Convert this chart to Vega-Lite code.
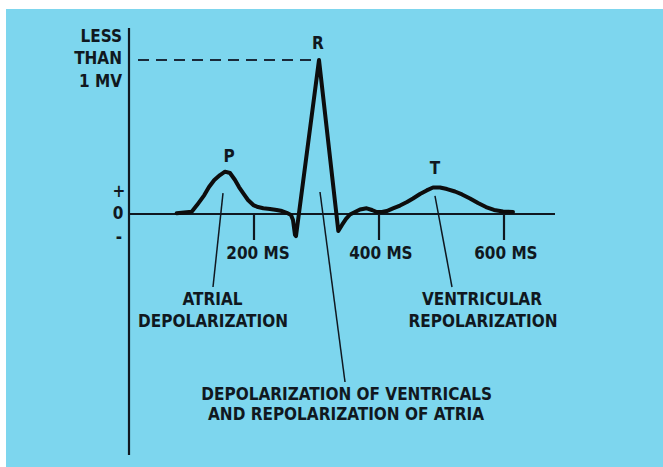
{
  "$schema": "https://vega.github.io/schema/vega-lite/v6.json",
  "width": 663,
  "height": 467,
  "autosize": {"type": "fit", "contains": "padding"},
  "padding": {"left": 6, "top": 9, "right": 0, "bottom": 0},
  "background": "#ffffff",
  "config": {
    "view": {"fill": "#7dd6ee", "stroke": null},
    "text": {"font": "DejaVu Sans Condensed", "fontSize": 17, "fontWeight": "bold", "color": "#101820", "baseline": "middle"}
  },
  "datasets": {
    "frame": [
      {"x": 0, "y": -1.565, "x2": 0, "y2": 1.208},
      {"x": 0, "y": 0, "x2": 681.6, "y2": 0},
      {"x": 200, "y": 0, "x2": 200, "y2": -0.169},
      {"x": 400, "y": 0, "x2": 400, "y2": -0.169},
      {"x": 600, "y": 0, "x2": 600, "y2": -0.169}
    ],
    "dashed": [{"x": 14.4, "y": 1.0, "x2": 291.2, "y2": 1.0}],
    "leaders": [
      {"x": 150.4, "y": 0.136, "x2": 134.4, "y2": -0.474},
      {"x": 305.6, "y": 0.143, "x2": 345.6, "y2": -1.091},
      {"x": 489.6, "y": 0.117, "x2": 516.8, "y2": -0.474}
    ],
    "ecg": [
      {"ms": 76.3, "mv": 0.005},
      {"ms": 88, "mv": 0.01},
      {"ms": 100.3, "mv": 0.015},
      {"ms": 108.8, "mv": 0.058},
      {"ms": 120.5, "mv": 0.123},
      {"ms": 128, "mv": 0.175},
      {"ms": 136.5, "mv": 0.221},
      {"ms": 145.6, "mv": 0.253},
      {"ms": 153.6, "mv": 0.275},
      {"ms": 161.6, "mv": 0.266},
      {"ms": 169.6, "mv": 0.221},
      {"ms": 176, "mv": 0.175},
      {"ms": 182.9, "mv": 0.134},
      {"ms": 190.4, "mv": 0.091},
      {"ms": 198.9, "mv": 0.058},
      {"ms": 206.4, "mv": 0.045},
      {"ms": 214.9, "mv": 0.037},
      {"ms": 225.6, "mv": 0.032},
      {"ms": 236.3, "mv": 0.026},
      {"ms": 244.8, "mv": 0.019},
      {"ms": 252.3, "mv": 0.008},
      {"ms": 259.2, "mv": -0.006},
      {"ms": 262.4, "mv": -0.039},
      {"ms": 265.6, "mv": -0.136},
      {"ms": 267.2, "mv": -0.143},
      {"ms": 304, "mv": 1.0},
      {"ms": 334.9, "mv": -0.11},
      {"ms": 340.8, "mv": -0.071},
      {"ms": 347.2, "mv": -0.032},
      {"ms": 353.6, "mv": -0.003},
      {"ms": 361.6, "mv": 0.013},
      {"ms": 369.6, "mv": 0.029},
      {"ms": 380.3, "mv": 0.037},
      {"ms": 388.8, "mv": 0.026},
      {"ms": 396.3, "mv": 0.013},
      {"ms": 404.8, "mv": 0.013},
      {"ms": 412.3, "mv": 0.019},
      {"ms": 422.4, "mv": 0.036},
      {"ms": 433.6, "mv": 0.055},
      {"ms": 444.8, "mv": 0.078},
      {"ms": 454.4, "mv": 0.101},
      {"ms": 465.6, "mv": 0.13},
      {"ms": 476.3, "mv": 0.153},
      {"ms": 486.4, "mv": 0.172},
      {"ms": 497.6, "mv": 0.172},
      {"ms": 508.8, "mv": 0.162},
      {"ms": 521.6, "mv": 0.146},
      {"ms": 532.8, "mv": 0.127},
      {"ms": 545.6, "mv": 0.101},
      {"ms": 558.4, "mv": 0.071},
      {"ms": 571.2, "mv": 0.045},
      {"ms": 584, "mv": 0.026},
      {"ms": 598.4, "mv": 0.016},
      {"ms": 614.4, "mv": 0.013}
    ],
    "labels": [
      {"label": "P", "x": 160, "y": 0.37},
      {"label": "R", "x": 302.4, "y": 1.104},
      {"label": "T", "x": 489.6, "y": 0.292},
      {"label": "+", "x": -16, "y": 0.143},
      {"label": "0", "x": -17.6, "y": 0},
      {"label": "-", "x": -16, "y": -0.156},
      {"label": "200 MS", "x": 206.4, "y": -0.258},
      {"label": "400 MS", "x": 403, "y": -0.258},
      {"label": "600 MS", "x": 603, "y": -0.258},
      {"label": "ATRIAL", "x": 133.6, "y": -0.558},
      {"label": "DEPOLARIZATION", "x": 134.4, "y": -0.704},
      {"label": "VENTRICULAR", "x": 564.8, "y": -0.558},
      {"label": "REPOLARIZATION", "x": 566.4, "y": -0.701},
      {"label": "DEPOLARIZATION OF VENTRICALS", "x": 348.3, "y": -1.175},
      {"label": "AND REPOLARIZATION OF ATRIA", "x": 347.2, "y": -1.305}
    ],
    "ylabels": [
      {"label": "LESS", "x": -11.2, "y": 1.151},
      {"label": "THAN", "x": -11.2, "y": 1.005},
      {"label": "1 MV", "x": -11.2, "y": 0.859}
    ]
  },
  "layer": [
    {
      "data": {"name": "frame"},
      "mark": {"type": "rule", "color": "#101820", "strokeWidth": 2.2},
      "encoding": {
        "x": {"field": "x", "type": "quantitative", "scale": {"domain": [-196.8, 854.4], "nice": false, "zero": false}, "axis": null},
        "y": {"field": "y", "type": "quantitative", "scale": {"domain": [-1.6429, 1.3312], "nice": false, "zero": false}, "axis": null},
        "x2": {"field": "x2"},
        "y2": {"field": "y2"}
      }
    },
    {
      "data": {"name": "dashed"},
      "mark": {"type": "rule", "color": "#1a2a3a", "strokeWidth": 2, "strokeDash": [11, 7]},
      "encoding": {
        "x": {"field": "x", "type": "quantitative", "scale": {"domain": [-196.8, 854.4], "nice": false, "zero": false}, "axis": null},
        "y": {"field": "y", "type": "quantitative", "scale": {"domain": [-1.6429, 1.3312], "nice": false, "zero": false}, "axis": null},
        "x2": {"field": "x2"},
        "y2": {"field": "y2"}
      }
    },
    {
      "data": {"name": "leaders"},
      "mark": {"type": "rule", "color": "#101820", "strokeWidth": 1.5},
      "encoding": {
        "x": {"field": "x", "type": "quantitative", "scale": {"domain": [-196.8, 854.4], "nice": false, "zero": false}, "axis": null},
        "y": {"field": "y", "type": "quantitative", "scale": {"domain": [-1.6429, 1.3312], "nice": false, "zero": false}, "axis": null},
        "x2": {"field": "x2"},
        "y2": {"field": "y2"}
      }
    },
    {
      "data": {"name": "ecg"},
      "mark": {"type": "line", "color": "#0d0d0d", "strokeWidth": 4, "strokeJoin": "round", "strokeCap": "round", "interpolate": "linear"},
      "encoding": {
        "x": {"field": "ms", "type": "quantitative", "scale": {"domain": [-196.8, 854.4], "nice": false, "zero": false}, "axis": null},
        "y": {"field": "mv", "type": "quantitative", "scale": {"domain": [-1.6429, 1.3312], "nice": false, "zero": false}, "axis": null}
      }
    },
    {
      "data": {"name": "labels"},
      "mark": {"type": "text", "align": "center"},
      "encoding": {
        "x": {"field": "x", "type": "quantitative", "scale": {"domain": [-196.8, 854.4], "nice": false, "zero": false}, "axis": null},
        "y": {"field": "y", "type": "quantitative", "scale": {"domain": [-1.6429, 1.3312], "nice": false, "zero": false}, "axis": null},
        "text": {"field": "label"}
      }
    },
    {
      "data": {"name": "ylabels"},
      "mark": {"type": "text", "align": "right"},
      "encoding": {
        "x": {"field": "x", "type": "quantitative", "scale": {"domain": [-196.8, 854.4], "nice": false, "zero": false}, "axis": null},
        "y": {"field": "y", "type": "quantitative", "scale": {"domain": [-1.6429, 1.3312], "nice": false, "zero": false}, "axis": null},
        "text": {"field": "label"}
      }
    }
  ]
}
